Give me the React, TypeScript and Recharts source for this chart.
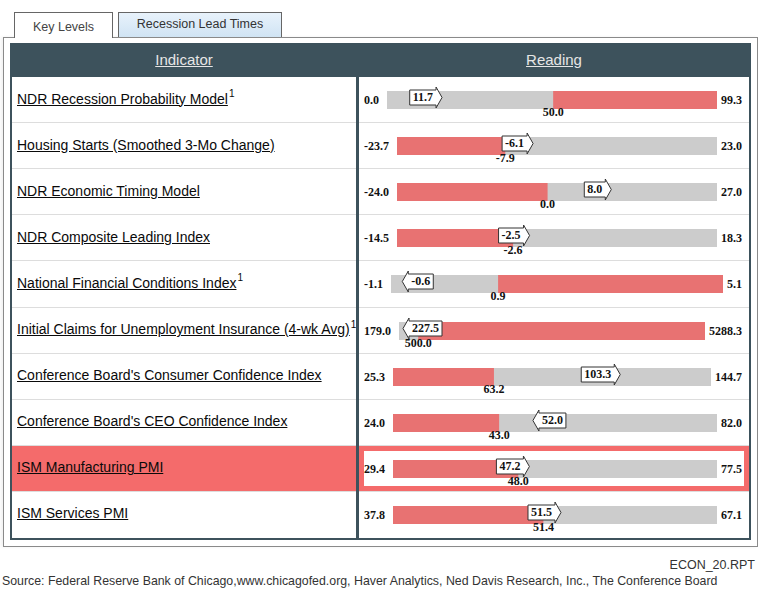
import React from "react";
import { BarChart, Bar, XAxis, YAxis, ReferenceDot } from "recharts";

const indicators = [
  "NDR Recession Probability Model",
  "Housing Starts (Smoothed 3-Mo Change)",
  "NDR Economic Timing Model",
  "NDR Composite Leading Index",
  "National Financial Conditions Index",
  "Initial Claims for Unemployment Insurance (4-wk Avg)",
  "Conference Board's Consumer Confidence Index",
  "Conference Board's CEO Confidence Index",
  "ISM Manufacturing PMI",
  "ISM Services PMI",
];
const footnotes = ["1", "", "", "", "1", "1", "", "", "", ""];
const mins = [0.0, -23.7, -24.0, -14.5, -1.1, 179.0, 25.3, 24.0, 29.4, 37.8];
const maxs = [99.3, 23.0, 27.0, 18.3, 5.1, 5288.3, 144.7, 82.0, 77.5, 67.1];
const thresholds = [50.0, -7.9, 0.0, -2.6, 0.9, 500.0, 63.2, 43.0, 48.0, 51.4];
const readings = [11.7, -6.1, 8.0, -2.5, -0.6, 227.5, 103.3, 52.0, 47.2, 51.5];
const directions = ["up", "up", "up", "up", "down", "down", "up", "down", "up", "up"];
const redSides = ["above", "below", "below", "below", "above", "above", "below", "below", "below", "below"];
const highlighted = [false, false, false, false, false, false, false, false, true, false];

const SLATE = "#3d525c";
const RED_BAR = "#e87272";
const GREY_BAR = "#cccccc";
const HIGHLIGHT = "#f46b6b";
const NUM_FONT = "'Liberation Serif', 'Times New Roman', serif";
const SANS = "'Liberation Sans', Arial, sans-serif";

let ctx: CanvasRenderingContext2D | null = null;
function measure(text: string): number {
  if (!ctx && typeof document !== "undefined") {
    const c = document.createElement("canvas");
    ctx = c.getContext("2d");
  }
  if (ctx) {
    ctx.font = "bold 12px 'Liberation Serif'";
    return ctx.measureText(text).width;
  }
  let w = 0;
  for (const ch of text) w += ch === "." ? 3 : ch === "-" ? 4 : 6;
  return w;
}

const numStyle = {
  fontFamily: NUM_FONT,
  fontWeight: 700,
  fontSize: 12,
  fill: "#111",
} as const;

function Marker(props: any) {
  const { cx, cy, label, dir, minX } = props;
  if (cx == null || cy == null) return null;
  const tw = measure(label);
  const bw = tw + 6;
  const tip = 6;
  const total = bw + tip;
  const top = cy - 10;
  const bottom = cy + 5;
  const mid = (top + bottom) / 2;
  const shapeLeft = Math.max(cx - total / 2, minX + 4);
  let d: string;
  let bodyLeft: number;
  if (dir === "up") {
    bodyLeft = shapeLeft;
    const br = bodyLeft + bw;
    d = `M${bodyLeft},${top} H${br} V${top - 3} L${br + tip},${mid} L${br},${bottom + 3} V${bottom} H${bodyLeft} Z`;
  } else {
    const bl = shapeLeft + tip;
    bodyLeft = bl;
    const brr = bl + bw;
    d = `M${brr},${top} H${bl} V${top - 3} L${bl - tip},${mid} L${bl},${bottom + 3} V${bottom} H${brr} Z`;
  }
  return (
    <g>
      <path d={d} fill="#ffffff" stroke="#333" strokeWidth={1} />
      <text x={bodyLeft + bw / 2} y={cy + 1} textAnchor="middle" {...numStyle}>
        {label}
      </text>
    </g>
  );
}

function ReadingChart({ i }: { i: number }) {
  const min = mins[i];
  const max = maxs[i];
  const thr = thresholds[i];
  const cur = readings[i];
  const name = indicators[i];
  const leftText = min.toFixed(1);
  const rightText = max.toFixed(1);
  const lw = measure(leftText);
  const rw = measure(rightText);
  const left = 5 + lw + 8;
  const data = [
    {
      name,
      full: [min, max],
      red: redSides[i] === "above" ? [thr, max] : [min, thr],
    },
  ];
  return (
    <BarChart
      layout="vertical"
      width={390}
      height={46}
      data={data}
      margin={{ top: 0, bottom: 0, left, right: 7 + rw + 4 }}
      barGap={-18}
      barSize={18}
      style={{ overflow: "visible" }}
    >
      <XAxis type="number" hide domain={[min, max]} allowDataOverflow />
      <YAxis type="category" dataKey="name" hide />
      <Bar dataKey="full" fill={GREY_BAR} isAnimationActive={false} />
      <Bar dataKey="red" fill={RED_BAR} isAnimationActive={false} />
      <ReferenceDot
        x={min}
        y={name}
        shape={(p: any) => (
          <text x={p.cx - 8} y={p.cy + 3.5} textAnchor="end" {...numStyle}>
            {leftText}
          </text>
        )}
      />
      <ReferenceDot
        x={max}
        y={name}
        shape={(p: any) => (
          <text x={p.cx + 4} y={p.cy + 3.5} textAnchor="start" {...numStyle}>
            {rightText}
          </text>
        )}
      />
      <ReferenceDot
        x={thr}
        y={name}
        shape={(p: any) => (
          <text x={p.cx} y={p.cy + 16} textAnchor="middle" {...numStyle}>
            {thr.toFixed(1)}
          </text>
        )}
      />
      <ReferenceDot
        x={cur}
        y={name}
        shape={(p: any) => (
          <Marker cx={p.cx} cy={p.cy} label={cur.toFixed(1)} dir={directions[i]} minX={left} />
        )}
      />
    </BarChart>
  );
}

const ROW_TOP = 77;
const ROW_H = 46.1;

export default function App() {
  return (
    <div
      style={{
        position: "absolute",
        left: 0,
        top: 0,
        width: 768,
        height: 596,
        background: "#ffffff",
        fontFamily: SANS,
        overflow: "hidden",
      }}
    >
      {/* outer frame */}
      <div
        style={{
          position: "absolute",
          left: 3,
          top: 37,
          width: 755,
          height: 510,
          border: "1px solid #8a8a8a",
          boxSizing: "border-box",
          boxShadow: "-2px 0 3px rgba(0,0,0,0.06)",
        }}
      />
      {/* tabs */}
      <div
        style={{
          position: "absolute",
          left: 14,
          top: 12,
          width: 99,
          height: 26,
          border: "1px solid #666",
          borderBottom: "none",
          boxSizing: "border-box",
          background: "#ffffff",
          fontSize: 12.5,
          color: "#444",
          textAlign: "center",
          paddingTop: 7,
        }}
      >
        Key Levels
      </div>
      <div
        style={{
          position: "absolute",
          left: 118,
          top: 12,
          width: 164,
          height: 25,
          border: "1px solid #666",
          borderBottom: "none",
          boxSizing: "border-box",
          background: "linear-gradient(#e8f2fb, #d0e4f4)",
          fontSize: 12.5,
          color: "#333",
          textAlign: "center",
          paddingTop: 4,
        }}
      >
        Recession Lead Times
      </div>

      {/* table */}
      <div
        style={{
          position: "absolute",
          left: 10,
          top: 43,
          width: 741,
          height: 497,
          border: `2px solid ${SLATE}`,
          boxSizing: "border-box",
          background: "#fff",
        }}
      />
      {/* header */}
      <div
        style={{
          position: "absolute",
          left: 10,
          top: 43,
          width: 741,
          height: 34,
          background: SLATE,
        }}
      />
      <div
        style={{
          position: "absolute",
          left: 12,
          top: 43,
          width: 344,
          height: 34,
          lineHeight: "34px",
          textAlign: "center",
          color: "#e6e6e6",
          fontSize: 15,
          textDecoration: "underline",
        }}
      >
        Indicator
      </div>
      <div
        style={{
          position: "absolute",
          left: 359,
          top: 43,
          width: 390,
          height: 34,
          lineHeight: "34px",
          textAlign: "center",
          color: "#e6e6e6",
          fontSize: 15,
          textDecoration: "underline",
        }}
      >
        Reading
      </div>

      {indicators.map((ind, i) => {
        const top = ROW_TOP + i * ROW_H;
        const hl = highlighted[i];
        return (
          <React.Fragment key={ind}>
            <div
              style={{
                position: "absolute",
                left: 12,
                top: top,
                width: 344,
                height: ROW_H - 1,
                background: hl ? HIGHLIGHT : "#fff",
                display: "flex",
                alignItems: "center",
                paddingLeft: 5,
                paddingBottom: 2,
                boxSizing: "border-box",
                fontSize: 14,
                color: "#0a0a0a",
                whiteSpace: "nowrap",
              }}
            >
              <span style={{ textDecoration: "underline" }}>{ind}</span>
              {footnotes[i] ? (
                <span style={{ fontSize: 10, position: "relative", top: -5, marginLeft: 1 }}>{footnotes[i]}</span>
              ) : null}
            </div>
            {hl ? (
              <div
                style={{
                  position: "absolute",
                  left: 359,
                  top: top,
                  width: 390,
                  height: ROW_H - 1,
                  border: `5px solid ${HIGHLIGHT}`,
                  boxSizing: "border-box",
                }}
              />
            ) : null}
            <div style={{ position: "absolute", left: 359, top: top, width: 390, height: 46 }}>
              <ReadingChart i={i} />
            </div>
            {i < indicators.length - 1 ? (
              <div
                style={{
                  position: "absolute",
                  left: 12,
                  top: top + ROW_H - 1,
                  width: 737,
                  height: 1,
                  background: "#dddddd",
                }}
              />
            ) : null}
          </React.Fragment>
        );
      })}
      {/* column divider */}
      <div
        style={{
          position: "absolute",
          left: 356,
          top: 43,
          width: 3,
          height: 497,
          background: SLATE,
        }}
      />

      {/* footer */}
      <div
        style={{
          position: "absolute",
          right: 13,
          top: 558,
          fontSize: 12.5,
          color: "#333",
          whiteSpace: "nowrap",
        }}
      >
        ECON_20.RPT
      </div>
      <div
        style={{
          position: "absolute",
          left: 2,
          top: 574,
          fontSize: 12.35,
          color: "#333",
          whiteSpace: "nowrap",
        }}
      >
        Source: Federal Reserve Bank of Chicago,www.chicagofed.org, Haver Analytics, Ned Davis Research, Inc., The Conference Board
      </div>
    </div>
  );
}
